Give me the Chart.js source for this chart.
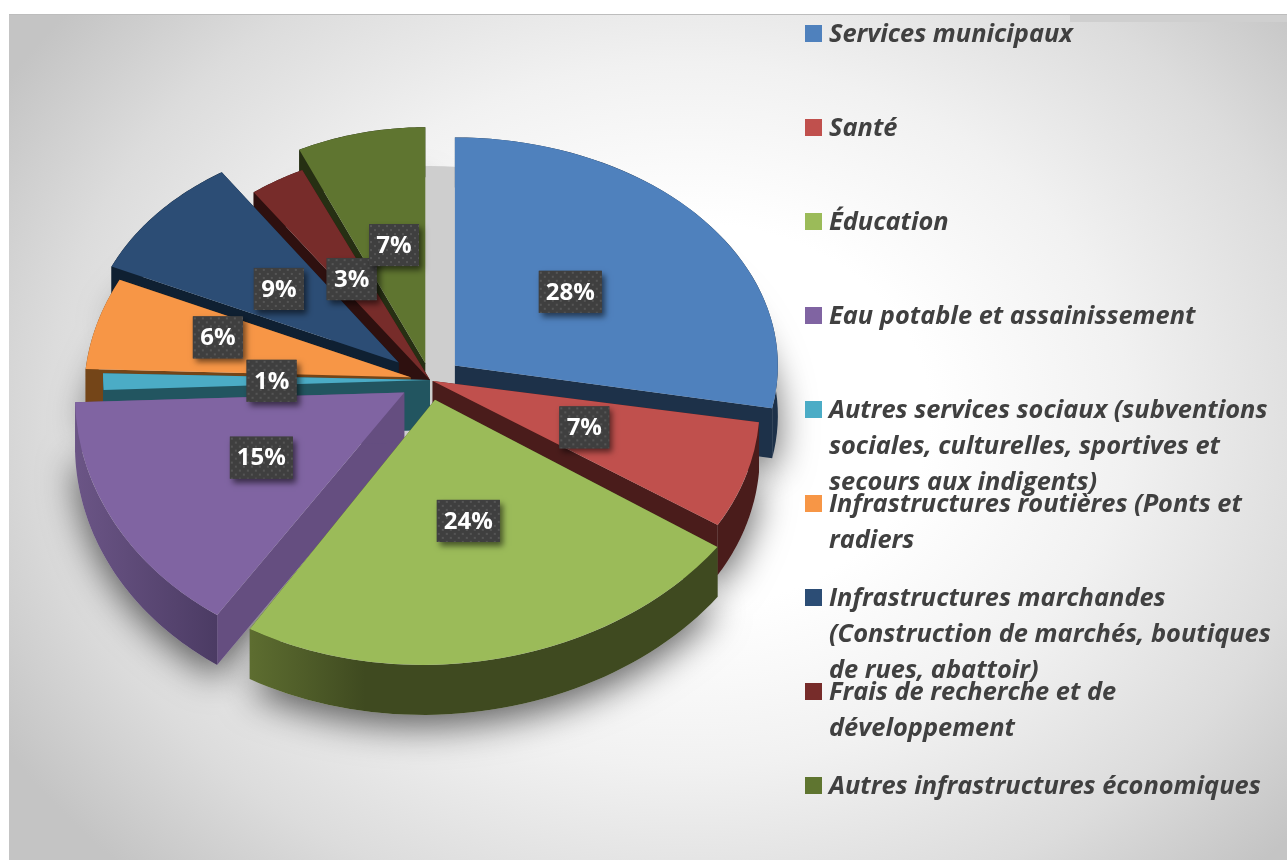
<!DOCTYPE html>
<html lang="fr">
<head>
<meta charset="utf-8">
<title>Répartition</title>
<script src="https://cdn.jsdelivr.net/npm/chart.js@4"></script>
<style>
    html, body { margin: 0; padding: 0; background: #fff; overflow: hidden; }
    #frame {
        position: absolute; left: 9px; top: 14px; width: 1278px; height: 846px;
        border-top: 1px solid #bdbdbd; box-sizing: border-box;
        background: radial-gradient(ellipse 800px 640px at 680px 400px,
            #ffffff 0%, #ffffff 30%, #f1f1f1 55%, #dcdcdc 80%, #c4c4c4 100%);
    }
    #strip { position: absolute; left: 1070px; top: 15px; width: 217px; height: 7px; background: #cfcfcf; }
    #chart { position: absolute; left: 0; top: 0; }
</style>
</head>
<body>
<div id="frame"></div>
<div id="strip"></div>
<canvas id="chart" width="1287" height="860"></canvas>
<script>
const categories = [
    "Services municipaux",
    "Santé",
    "Éducation",
    "Eau potable et assainissement",
    "Autres services sociaux (subventions sociales, culturelles, sportives et secours aux indigents)",
    "Infrastructures routières (Ponts et radiers",
    "Infrastructures marchandes (Construction de marchés, boutiques de rues, abattoir)",
    "Frais de recherche et de développement",
    "Autres infrastructures économiques",
];
const legendLines = [
    ["Services municipaux"],
    ["Santé"],
    ["Éducation"],
    ["Eau potable et assainissement"],
    ["Autres services sociaux (subventions", "sociales, culturelles, sportives et", "secours aux indigents)"],
    ["Infrastructures routières (Ponts et", "radiers"],
    ["Infrastructures marchandes", "(Construction de marchés, boutiques", "de rues, abattoir)"],
    ["Frais de recherche et de", "développement"],
    ["Autres infrastructures économiques"],
];
const shares = [28, 7, 24, 15, 1, 6, 9, 3, 7];

// styling of the slices
const topColors = ["#4f81bd", "#c0504d", "#9bbb59", "#8064a2", "#4bacc6", "#f79646", "#2c4d75", "#772c2a", "#5f7530"];
const cutColors = ["#1d3149", "#4a1c1b", "#3f4a20", "#654e80", "#225560", "#744518", "#0f2032", "#2e100f", "#262f13"];
const edgeLeft = ["#1d3149", "#4a1c1b", "#5d6d30", "#6b5586", "#225560", "#744518", "#0f2032", "#2e100f", "#262f13"];
const edgeRight = ["#1d3149", "#4a1c1b", "#3f4a20", "#4a3a62", "#225560", "#744518", "#0f2032", "#2e100f", "#262f13"];
const edgeStops = [[0, 1], [0, 1], [0.47, 0.8], [0, 0.45], [0, 1], [0, 1], [0, 1], [0, 1], [0, 1]];

// fake 3D: explosion of each slice and its projected ellipse (the front looks bigger)
const explode = [33, 3, 25, 30, 0, 20, 42, 0, 24];
const radiusX = [323, 325, 348, 329, 327, 325, 312, 300, 296];
const radiusY = [228, 254, 265, 268, 270, 244, 225, 232, 236];
const shearX = [0, 0.148, 0.006, -0.048, 0, -0.124, -0.036, 0, 0];
const shearY = [0, -0.02, -0.03, 0.021, 0.021, 0.025, 0.045, 0, 0];
const labelShift = [[-9, -1], [-5, -1], [0, -8], [2, 0], [5, 0], [-36, -13], [1, 1], [-2, -1], [1, -3]];
const DEPTH = 50;

const FONT_FAMILY = '"Open Sans", "Noto Sans", sans-serif';

function makeDotPattern(ctx) {
    const tile = document.createElement("canvas");
    tile.width = 8;
    tile.height = 8;
    const t = tile.getContext("2d");
    t.fillStyle = "#3f3f3f";
    t.fillRect(0, 0, 8, 8);
    t.fillStyle = "#555555";
    t.fillRect(1, 1, 2, 2);
    t.fillRect(5, 5, 2, 2);
    return ctx.createPattern(tile, "repeat");
}

// geometry of a slice on the screen, from the arc computed by Chart.js
function sliceInfo(arc, i) {
    const mid = (arc.startAngle + arc.endAngle) / 2;
    const sx = radiusX[i] / arc.outerRadius;
    const sy = radiusY[i] / arc.outerRadius;
    return {
        i: i,
        mid: mid,
        sx: sx,
        sy: sy,
        cx: arc.x + Math.cos(mid) * explode[i] * sx,
        cy: arc.y + Math.sin(mid) * explode[i] * sy,
    };
}

function pointOn(s, angle, scale) {
    const u = Math.cos(angle) * radiusX[s.i] * scale;
    const v = Math.sin(angle) * radiusY[s.i] * scale;
    return [s.cx + u + shearX[s.i] * v, s.cy + v + shearY[s.i] * u];
}

function arcPoints(arc, s) {
    const steps = 48;
    const pts = [];
    for (let n = 0; n <= steps; n++) {
        pts.push(pointOn(s, arc.startAngle + (arc.endAngle - arc.startAngle) * n / steps, 1));
    }
    return pts;
}

function drawShadow(ctx, arcs) {
    ctx.save();
    ctx.shadowColor = "rgba(0,0,0,0.6)";
    ctx.shadowBlur = 36;
    ctx.shadowOffsetY = 12;
    ctx.fillStyle = "#c4c4c4";
    arcs.forEach((arc, i) => {
        const s = sliceInfo(arc, i);
        ctx.beginPath();
        ctx.moveTo(s.cx, s.cy + DEPTH);
        arcPoints(arc, s).forEach((p) => ctx.lineTo(p[0], p[1] + DEPTH));
        ctx.closePath();
        ctx.fill();
    });
    ctx.restore();
    // soft grey seen through the gaps between the slices
    ctx.fillStyle = "#cecece";
    ctx.beginPath();
    ctx.ellipse(arcs[0].x, arcs[0].y, 290, 214, 0, 0, Math.PI * 2);
    ctx.fill();
}

function drawWall(ctx, arc, i) {
    const s = sliceInfo(arc, i);
    const left = s.cx - radiusX[i];
    const grad = ctx.createLinearGradient(left, 0, s.cx, 0);
    grad.addColorStop(edgeStops[i][0], edgeLeft[i]);
    grad.addColorStop(edgeStops[i][1], edgeRight[i]);

    ctx.fillStyle = cutColors[i];
    [arc.startAngle, arc.endAngle].forEach((angle) => {
        const p = pointOn(s, angle, 1);
        ctx.beginPath();
        ctx.moveTo(s.cx, s.cy);
        ctx.lineTo(p[0], p[1]);
        ctx.lineTo(p[0], p[1] + DEPTH);
        ctx.lineTo(s.cx, s.cy + DEPTH);
        ctx.closePath();
        ctx.fill();
    });

    const pts = arcPoints(arc, s);
    ctx.fillStyle = grad;
    ctx.beginPath();
    pts.forEach((p, n) => (n ? ctx.lineTo(p[0], p[1]) : ctx.moveTo(p[0], p[1])));
    pts.slice().reverse().forEach((p) => ctx.lineTo(p[0], p[1] + DEPTH));
    ctx.closePath();
    ctx.fill();
}

const tiltedPie = {
    id: "tiltedPie",
    afterDatasetsUpdate(chart) {
        const arcs = chart.getDatasetMeta(0).data;
        arcs.forEach((arc, i) => {
            if (arc.tiltWrapped) {
                return;
            }
            arc.tiltWrapped = true;
            const flatDraw = arc.draw;
            arc.draw = function (ctx, area) {
                const s = sliceInfo(arc, i);
                ctx.save();
                ctx.transform(1, shearY[i], shearX[i], 1, s.cx, s.cy);
                ctx.scale(s.sx, s.sy);
                ctx.translate(-arc.x, -arc.y);
                flatDraw.call(arc, ctx, area);
                ctx.restore();
            };
        });
    },
    beforeDatasetsDraw(chart) {
        const ctx = chart.ctx;
        const arcs = chart.getDatasetMeta(0).data;
        drawShadow(ctx, arcs);
        // back slices first
        const depthOf = (i) => {
            const s = sliceInfo(arcs[i], i);
            return s.cy + Math.sin(s.mid) * 100;
        };
        const order = arcs.map((arc, i) => i).sort((a, b) => depthOf(a) - depthOf(b));
        order.forEach((i) => drawWall(ctx, arcs[i], i));
    },
    afterDatasetsDraw(chart) {
        const ctx = chart.ctx;
        const arcs = chart.getDatasetMeta(0).data;
        const pattern = makeDotPattern(ctx);
        ctx.save();
        ctx.font = "bold 24px " + FONT_FAMILY;
        ctx.textAlign = "center";
        ctx.textBaseline = "middle";
        arcs.forEach((arc, i) => {
            const s = sliceInfo(arc, i);
            const c = pointOn(s, s.mid, 0.5);
            const x = c[0] + labelShift[i][0];
            const y = c[1] + labelShift[i][1];
            const text = shares[i] + "%";
            const w = text.length === 3 ? 63 : 50;
            const h = 42;
            ctx.save();
            ctx.shadowColor = "rgba(0,0,0,0.55)";
            ctx.shadowBlur = 6;
            ctx.shadowOffsetX = 3;
            ctx.shadowOffsetY = 4;
            ctx.fillStyle = "#3f3f3f";
            ctx.fillRect(x - w / 2, y - h / 2, w, h);
            ctx.restore();
            ctx.save();
            ctx.translate(x - w / 2, y - h / 2);
            ctx.fillStyle = pattern;
            ctx.fillRect(0, 0, w, h);
            ctx.restore();
            ctx.fillStyle = "#ffffff";
            ctx.fillText(text, x, y + 1);
        });
        ctx.restore();
    },
    afterDraw(chart) {
        // the legend rows overlap in the original, so it is laid out by hand
        const ctx = chart.ctx;
        ctx.save();
        ctx.font = "italic bold 25.4px " + FONT_FAMILY;
        ctx.textBaseline = "middle";
        legendLines.forEach((lines, i) => {
            const rowY = 33.5 + 94 * i;
            ctx.fillStyle = topColors[i];
            ctx.fillRect(805, rowY - 8.5, 17, 17);
            ctx.fillStyle = "#404040";
            lines.forEach((line, n) => {
                ctx.fillText(line, 829, rowY + 1.5 + n * 36);
            });
        });
        ctx.restore();
    },
};

new Chart(document.getElementById("chart"), {
    type: "pie",
    data: {
        labels: categories,
        datasets: [{
            data: shares,
            backgroundColor: topColors,
            borderWidth: 0,
            clip: false,
        }],
    },
    options: {
        responsive: false,
        animation: false,
        radius: 330,
        layout: { padding: { right: 427, bottom: 100 } },
        events: [],
        plugins: {
            legend: { display: false },
            tooltip: { enabled: false },
        },
    },
    plugins: [tiltedPie],
});
</script>
</body>
</html>
